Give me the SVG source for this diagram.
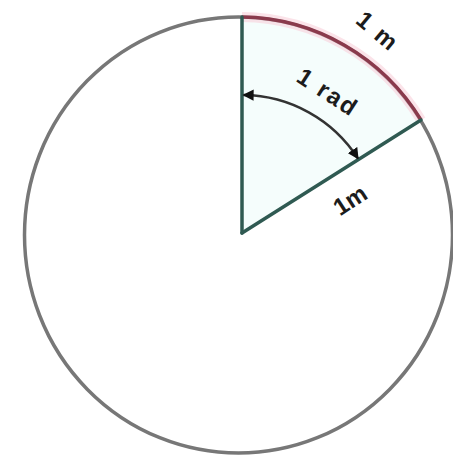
<svg xmlns="http://www.w3.org/2000/svg" width="453" height="456" viewBox="0 0 453 456">
  <style>
    .lbl { font-family: "Liberation Sans", Arial, sans-serif; font-size: 24px; font-weight: bold; fill: #1c1c1c; text-anchor: middle; dominant-baseline: central; }
    .radius { stroke: #2f5a52; stroke-width: 3.5; fill: none; stroke-linecap: round; }
  </style>
  <defs>
    <marker id="ah" viewBox="0 0 10 10" refX="9" refY="5" markerWidth="4.5" markerHeight="4.5" orient="auto-start-reverse" markerUnits="strokeWidth">
      <path d="M0,0 L10,5 L0,10 Z" fill="#111"/>
    </marker>
  </defs>
  <rect width="453" height="456" fill="#ffffff"/>
  <g id="sector">
    <path d="M242,233 L242,17 A214 218 0 0 1 421,120 Z" fill="#f5fdfc"/>
  </g>
  <g id="circle">
    <ellipse cx="238.5" cy="235" rx="214" ry="218" fill="none" stroke="#777777" stroke-width="3.5"/>
  </g>
  <g id="arc-1m">
    <path d="M242,17 A214 218 0 0 1 421,120" fill="none" stroke="#f9d0da" stroke-width="10" opacity="0.6"/>
    <path d="M242,17 A214 218 0 0 1 421,120" fill="none" stroke="#8a3a4c" stroke-width="3.5"/>
  </g>
  <g id="connectors">
    <line class="radius" x1="242" y1="233" x2="242" y2="17"/>
    <line class="radius" x1="242" y1="233" x2="421" y2="120"/>
    <path d="M243.5,95 A138 138 0 0 1 358,158.5" fill="none" stroke="#333" stroke-width="2.5" marker-start="url(#ah)" marker-end="url(#ah)"/>
  </g>
  <g id="label-rad">
    <text class="lbl" x="328" y="92" transform="rotate(33 328 92)" letter-spacing="2">1 rad</text>
  </g>
  <g id="label-arc">
    <text class="lbl" x="378" y="31" transform="rotate(40 378 31)" letter-spacing="2">1 m</text>
  </g>
  <g id="label-radius">
    <text class="lbl" x="350" y="200" transform="rotate(-33 350 200)">1m</text>
  </g>
</svg>
